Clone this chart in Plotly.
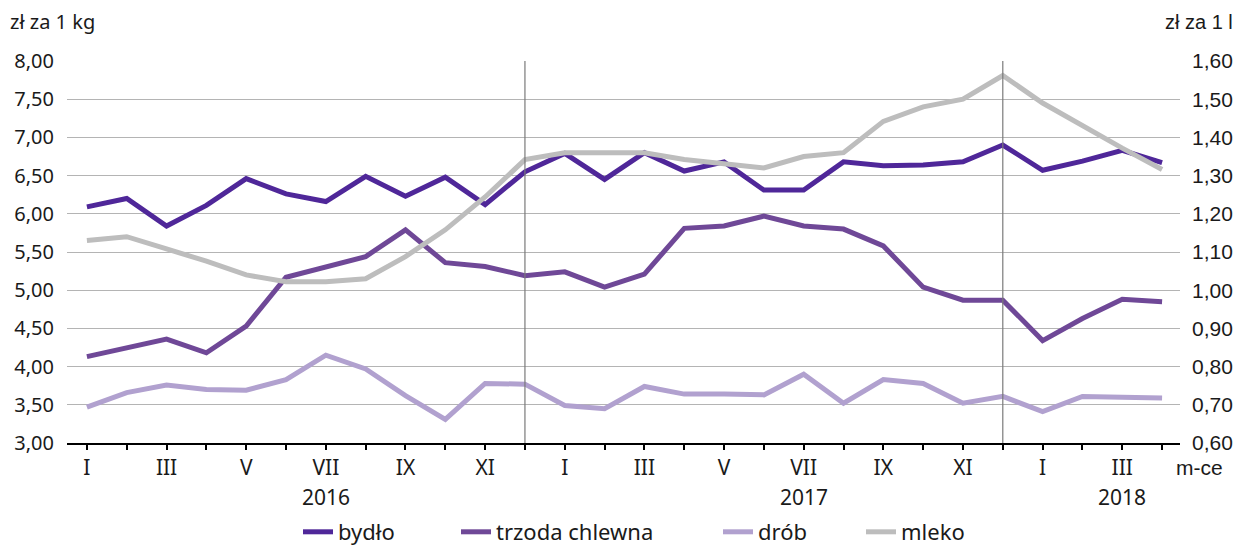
import plotly.graph_objects as go

months = [f"{y}-{m:02d}" for y in (2016, 2017) for m in range(1, 13)] + [f"2018-{m:02d}" for m in range(1, 5)]
roman = ["I", "", "III", "", "V", "", "VII", "", "IX", "", "XI", ""]
tick_text = roman + roman + roman[:4]

bydlo = [6.09, 6.20, 5.84, 6.11, 6.46, 6.26, 6.16, 6.49, 6.23, 6.48, 6.12, 6.55,
         6.79, 6.45, 6.80, 6.56, 6.68, 6.31, 6.31, 6.68, 6.63, 6.64, 6.68, 6.90,
         6.57, 6.69, 6.83, 6.67]
trzoda = [4.13, 4.25, 4.36, 4.18, 4.53, 5.17, 5.31, 5.44, 5.79, 5.36, 5.31, 5.19,
          5.24, 5.04, 5.21, 5.81, 5.84, 5.97, 5.84, 5.80, 5.58, 5.04, 4.87, 4.87,
          4.34, 4.63, 4.88, 4.85]
drob = [3.47, 3.66, 3.76, 3.70, 3.69, 3.83, 4.15, 3.97, 3.62, 3.31, 3.78, 3.77,
        3.49, 3.45, 3.74, 3.64, 3.64, 3.63, 3.90, 3.52, 3.83, 3.78, 3.52, 3.61,
        3.41, 3.61, 3.60, 3.59]
mleko = [1.13, 1.14, 1.108, 1.076, 1.04, 1.022, 1.022, 1.03, 1.088, 1.158, 1.244, 1.342,
         1.36, 1.36, 1.36, 1.342, 1.332, 1.32, 1.35, 1.36, 1.442, 1.48, 1.50, 1.562,
         1.49, 1.43, 1.372, 1.316]

series_names = ["bydło", "trzoda chlewna", "drób", "mleko"]
years = ["2016", "2017", "2018"]
year_label_months = ["2016-07", "2017-07", "2018-03"]
separator_months = ["2016-12", "2017-12"]

colors = {"bydło": "#4F2799", "trzoda chlewna": "#6F4897", "drób": "#B1A1CF", "mleko": "#BDBDBD"}
FONT = "Noto Sans"
ARIAL = "Liberation Sans"
TXT = "#1a1a1a"

W, H = 1239, 545
L, R, T, B = 67, 59, 61, 102
PW, PH = W - L - R, H - T - B


def px_x(p):
    return (p - L) / PW


def px_y(p):
    return (H - B - p) / PH


fig = go.Figure()
legend_text_px = [337, 495, 757, 900]
legend_ids = ["legend", "legend2", "legend3", "legend4"]
for i, (name, vals, ax) in enumerate(zip(series_names, [bydlo, trzoda, drob, mleko], ["y", "y", "y", "y2"])):
    fig.add_trace(go.Scatter(x=months, y=vals, name=name, mode="lines", yaxis=ax,
                             line=dict(color=colors[name], width=5), legend=legend_ids[i]))

for m in separator_months:
    fig.add_shape(type="line", xref="x", yref="paper", x0=m, x1=m, y0=0, y1=1,
                  line=dict(color="#7A7A7A", width=1.2), layer="above")

for yl, m in zip(years, year_label_months):
    fig.add_annotation(text=yl, x=m, xref="x", y=px_y(497), yref="paper", showarrow=False,
                       font=dict(family=FONT, size=21, color=TXT), yanchor="middle")

fig.add_annotation(text="m-ce", xref="paper", x=px_x(1174), y=px_y(467), yref="paper", showarrow=False,
                   xanchor="left", yanchor="middle", font=dict(family=ARIAL, size=21, color=TXT))
fig.add_annotation(text="zł za 1 kg", xref="paper", x=px_x(8), y=px_y(22), yref="paper", showarrow=False,
                   xanchor="left", yanchor="middle", font=dict(family=FONT, size=20, color=TXT))
fig.add_annotation(text="zł za 1 l", xref="paper", x=px_x(1235), y=px_y(22), yref="paper", showarrow=False,
                   xanchor="right", yanchor="middle", font=dict(family=ARIAL, size=20, color=TXT))

legend_common = dict(orientation="h", yanchor="middle", y=px_y(532), xanchor="left",
                     font=dict(family=FONT, size=22, color=TXT), bgcolor="rgba(0,0,0,0)",
                     borderwidth=0)
layout_legends = {}
for lid, p in zip(legend_ids, legend_text_px):
    layout_legends[lid] = dict(legend_common, x=px_x(p - 39))

fig.update_layout(
    width=W, height=H,
    margin=dict(l=L, r=R, t=T, b=B, autoexpand=False),
    paper_bgcolor="white", plot_bgcolor="white",
    showlegend=True,
    xaxis=dict(type="category", range=[-0.5, 27.45], tickmode="array", tickvals=months,
               ticktext=tick_text, ticks="outside", ticklen=5, tickwidth=2, tickcolor="black",
               showline=True, linecolor="black", linewidth=2, showgrid=False,
               tickfont=dict(family=FONT, size=21, color=TXT)),
    yaxis=dict(range=[3, 8], dtick=0.5, tickformat=".2f",
               gridcolor="#B4B4B4", gridwidth=1, zeroline=False, showline=False,
               tickfont=dict(family=FONT, size=20, color=TXT), ticks="", ticklabelstandoff=12),
    yaxis2=dict(range=[0.6, 1.6], dtick=0.1, tickformat=".2f", overlaying="y", side="right",
                showgrid=False, zeroline=False, showline=False,
                tickfont=dict(family=ARIAL, size=21, color=TXT), ticks="", ticklabelstandoff=11),
    separators=", ",
    **layout_legends,
)

fig.write_html("out.html", config={"displayModeBar": False},
               post_script="document.body.style.margin='0';document.body.style.padding='0';")
